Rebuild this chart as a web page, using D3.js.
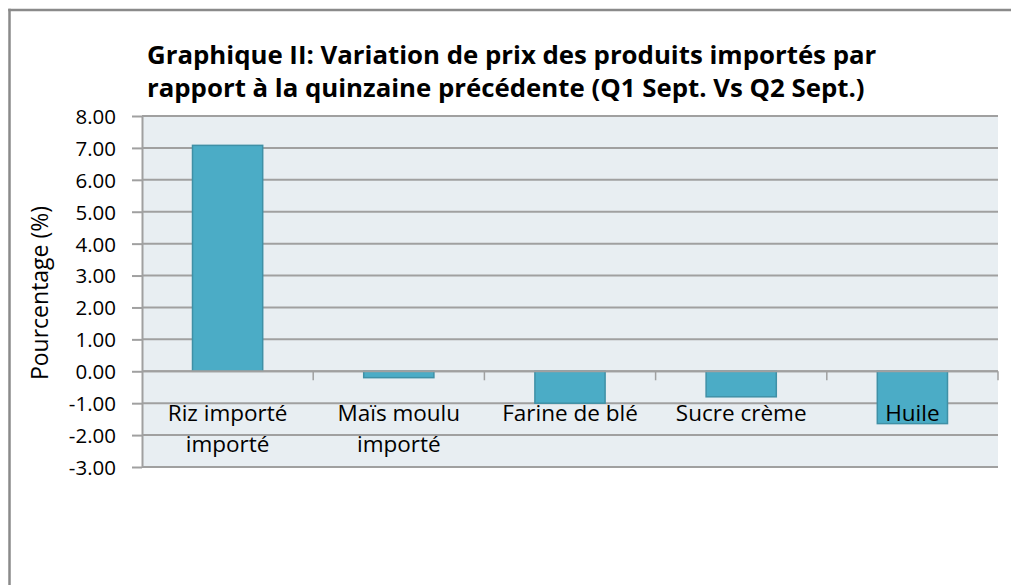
<!DOCTYPE html>
<html>
<head>
<meta charset="utf-8">
<script src="https://cdn.jsdelivr.net/npm/d3@7"></script>
<style>
  body { margin: 0; background: #fff; overflow: hidden; }
  svg text { font-family: "Open Sans", "Noto Sans", sans-serif; fill: #000; }
</style>
</head>
<body>
<div id="chart"></div>
<script>
// data
const categories = ["Riz importé importé", "Maïs moulu importé", "Farine de blé", "Sucre crème", "Huile"];
const values = [7.08, -0.20, -1.00, -0.80, -1.64];
const yTicks = [-3, -2, -1, 0, 1, 2, 3, 4, 5, 6, 7, 8];
const titleLines = ["Graphique II: Variation de prix des produits importés par",
                    "rapport à la quinzaine précédente (Q1 Sept. Vs Q2 Sept.)"];
const yTitle = "Pourcentage (%)";

const W = 1011, H = 585;
const plot = {left: 142, right: 998, top: 116, bottom: 467};

const svg = d3.select("#chart").append("svg")
    .attr("width", W)
    .attr("height", H)
    .style("display", "block");

// outer chart frame: only top and left edges are inside the picture
svg.append("line")
    .attr("x1", 8.25).attr("x2", W)
    .attr("y1", 10).attr("y2", 10)
    .attr("stroke", "#8a8a8a").attr("stroke-width", 2.5);
svg.append("line")
    .attr("x1", 9.5).attr("x2", 9.5)
    .attr("y1", 8.75).attr("y2", H)
    .attr("stroke", "#8a8a8a").attr("stroke-width", 2.5);

const xScale = d3.scaleBand()
    .domain(categories)
    .range([plot.left, plot.right])
    .padding(0);
const yScale = d3.scaleLinear()
    .domain([-3, 8])
    .range([plot.bottom, plot.top]);

// plot background
svg.append("rect")
    .attr("x", plot.left)
    .attr("y", plot.top)
    .attr("width", plot.right - plot.left)
    .attr("height", plot.bottom - plot.top)
    .attr("fill", "#e8eef2");

// left axis ticks, hyphen minus like the original
const fmt = d => d3.format(".2f")(d).replace("−", "-");
const yAxisG = svg.append("g")
    .attr("class", "yAxisG")
    .attr("transform", "translate(" + plot.left + ",0)")
    .call(d3.axisLeft(yScale).tickValues(yTicks).tickFormat(fmt).tickSizeInner(10).tickSizeOuter(0).tickPadding(16));
yAxisG.select(".domain").attr("stroke", "#a0a0a0").attr("stroke-width", 2);
yAxisG.selectAll(".tick line").attr("stroke", "#a0a0a0").attr("stroke-width", 2);
yAxisG.selectAll(".tick text")
    .attr("font-size", 20.5)
    .attr("font-family", "Open Sans")
    .attr("fill", "#111")
    .attr("dy", "0.36em");

// gridlines
svg.append("g")
    .attr("class", "gridG")
    .selectAll("line")
    .data(yTicks)
    .join("line")
    .attr("x1", plot.left)
    .attr("x2", plot.right)
    .attr("y1", d => yScale(d))
    .attr("y2", d => yScale(d))
    .attr("stroke", "#a0a0a0")
    .attr("stroke-width", 2);

// bars
const barW = xScale.bandwidth() * 0.41;
svg.append("g")
    .selectAll("rect")
    .data(categories)
    .join("rect")
    .attr("x", d => xScale(d) + (xScale.bandwidth() - barW) / 2)
    .attr("y", (d, i) => yScale(Math.max(0, values[i])))
    .attr("width", barW)
    .attr("height", (d, i) => Math.abs(yScale(values[i]) - yScale(0)))
    .attr("fill", "#4bacc6")
    .attr("stroke", "#3f90a6")
    .attr("stroke-width", 1.5);

// category axis along zero line
const y0 = yScale(0);
svg.append("line")
    .attr("x1", plot.left).attr("x2", plot.right)
    .attr("y1", y0).attr("y2", y0)
    .attr("stroke", "#a0a0a0").attr("stroke-width", 2);
svg.append("g")
    .selectAll("line")
    .data(categories)
    .join("line")
    .attr("x1", d => xScale(d) + xScale.bandwidth())
    .attr("x2", d => xScale(d) + xScale.bandwidth())
    .attr("y1", y0)
    .attr("y2", y0 + 9)
    .attr("stroke", "#a0a0a0")
    .attr("stroke-width", 1.5);

// category labels, wrapped like the original
const labelG = svg.append("g");
categories.forEach(cat => {
    const cx = xScale(cat) + xScale.bandwidth() / 2;
    const t = labelG.append("text")
        .attr("x", cx)
        .attr("y", 421)
        .attr("text-anchor", "middle")
        .attr("font-size", 22.5)
        .attr("fill", "#1a1a1a");
    const words = cat.split(" ");
    let line = [];
    let tspan = t.append("tspan").attr("x", cx);
    words.forEach(w => {
        line.push(w);
        tspan.text(line.join(" "));
        if (tspan.node().getComputedTextLength() > 160 && line.length > 1) {
            line.pop();
            tspan.text(line.join(" "));
            line = [w];
            tspan = t.append("tspan")
                .attr("x", cx)
                .attr("dy", 31)
                .text(w);
        }
    });
});

// y axis title
svg.append("text")
    .attr("transform", "translate(48,293) rotate(-90)")
    .attr("text-anchor", "middle")
    .attr("font-size", 23)
    .attr("fill", "#111")
    .text(yTitle);

// chart title
svg.append("g")
    .selectAll("text")
    .data(titleLines)
    .join("text")
    .attr("x", 147)
    .attr("y", (d, i) => 64 + i * 33)
    .attr("font-size", 25.8)
    .attr("font-weight", "bold")
    .attr("fill", "#1a1a1a")
    .text(d => d);
</script>
</body>
</html>
